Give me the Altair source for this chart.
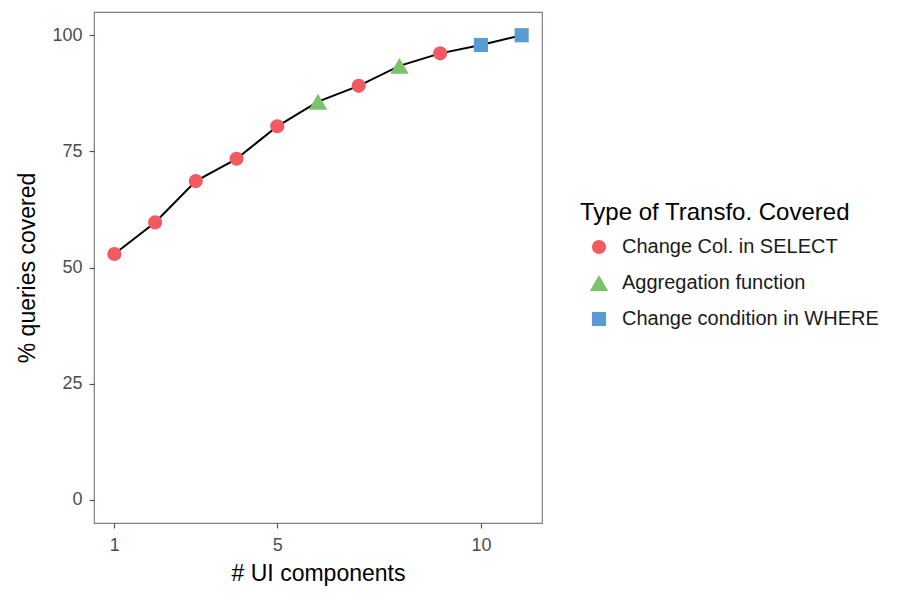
import altair as alt
import pandas as pd

# Number of UI components and cumulative share of queries they cover
components = [1, 2, 3, 4, 5, 6, 7, 8, 9, 10, 11]
coverage = [52.9, 59.7, 68.6, 73.4, 80.4, 85.7, 89.1, 93.4, 96.1, 97.9, 100.0]
transfo = [
    "Change Col. in SELECT", "Change Col. in SELECT", "Change Col. in SELECT",
    "Change Col. in SELECT", "Change Col. in SELECT", "Aggregation function",
    "Change Col. in SELECT", "Aggregation function", "Change Col. in SELECT",
    "Change condition in WHERE", "Change condition in WHERE",
]
categories = ["Change Col. in SELECT", "Aggregation function", "Change condition in WHERE"]
palette = ["#F15A60", "#7AC36A", "#5A9BD4"]
shapes = ["circle", "triangle-up", "square"]
marker_sizes = [200, 340, 200]

df = pd.DataFrame({"n": components, "pct": coverage, "type": transfo})

FONT = "Liberation Sans"

x = alt.X(
    "n:Q",
    title="# UI components",
    scale=alt.Scale(domain=[0.5, 11.5], nice=False, zero=False),
    axis=alt.Axis(values=[1, 5, 10], format="d", labelPadding=8, titlePadding=8),
)
y = alt.Y(
    "pct:Q",
    title="% queries covered",
    scale=alt.Scale(domain=[-5, 105], nice=False),
    axis=alt.Axis(values=[0, 25, 50, 75, 100], labelPadding=7, titlePadding=12),
)

line = alt.Chart(df).mark_line(color="black", strokeWidth=2).encode(x=x, y=y)

points = alt.Chart(df).mark_point(filled=True, opacity=1, strokeWidth=0).encode(
    x=x,
    y=y,
    color=alt.Color(
        "type:N",
        scale=alt.Scale(domain=categories, range=palette),
        title="Type of Transfo. Covered",
        legend=alt.Legend(
            orient="none", legendX=486, legendY=189,
            symbolSize=200, symbolOffset=9, rowPadding=16, titlePadding=12,
            labelOffset=13, labelLimit=0, titleLimit=0,
        ),
    ),
    shape=alt.Shape(
        "type:N",
        scale=alt.Scale(domain=categories, range=shapes),
        title="Type of Transfo. Covered",
    ),
    size=alt.Size(
        "type:N",
        scale=alt.Scale(type="ordinal", domain=categories, range=marker_sizes),
        legend=None,
    ),
)

chart = (
    alt.layer(line, points)
    .properties(
        width=448,
        height=511,
        autosize=alt.AutoSizeParams(type="none"),
        padding={"left": 94, "top": 12, "right": 358, "bottom": 77},
    )
    .configure(font=FONT, background="white")
    .configure_view(stroke="#7f7f7f", strokeWidth=1.2)
    .configure_axis(
        grid=False,
        domain=False,
        tickColor="#555555",
        tickSize=5,
        tickWidth=1.2,
        labelFont=FONT,
        labelFontSize=18,
        labelColor="#4d4d4d",
        titleFont=FONT,
        titleFontSize=23,
        titleFontWeight="normal",
        titleColor="black",
    )
    .configure_legend(
        titleFont=FONT,
        titleFontSize=24,
        titleFontWeight="normal",
        titleColor="black",
        labelFont=FONT,
        labelFontSize=20,
        labelColor="#1a1a1a",
    )
)

chart.save("out.html", embed_options={"renderer": "svg", "actions": False})
